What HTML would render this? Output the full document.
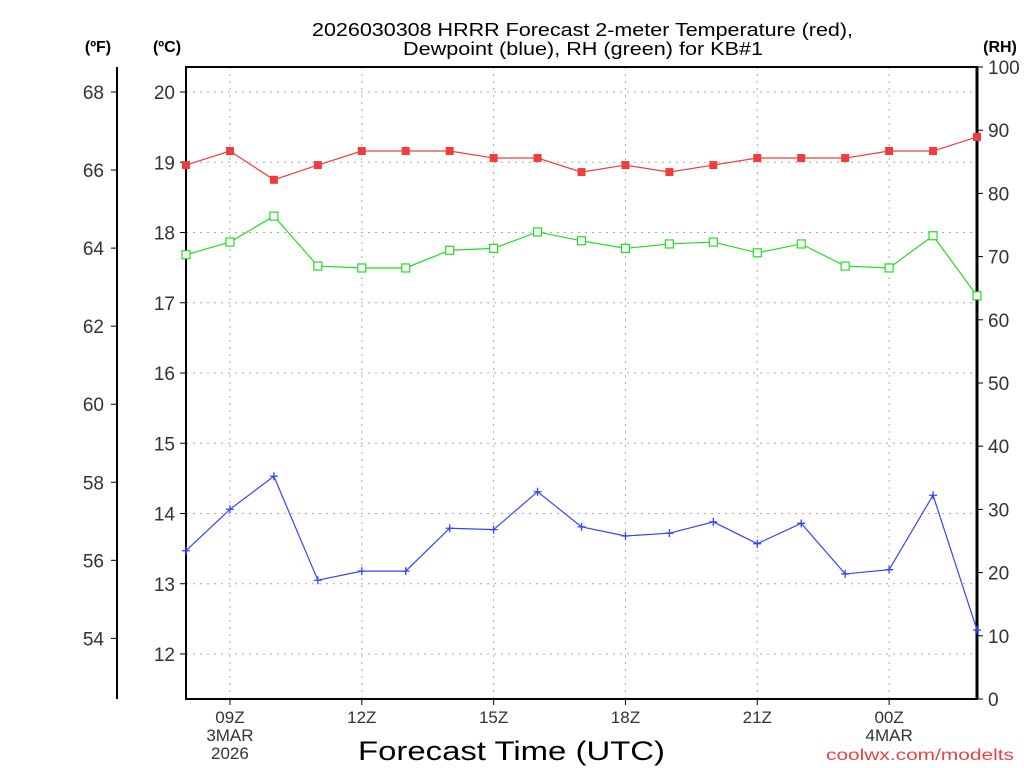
<!DOCTYPE html>
<html><head><meta charset="utf-8"><style>
body{margin:0;background:#fff}
svg{display:block;font-family:"Liberation Sans",sans-serif}
</style></head><body>
<svg id="c" width="1024" height="768" viewBox="0 0 1024 768">
<text x="312" y="36" font-size="18" textLength="541" lengthAdjust="spacingAndGlyphs">2026030308 HRRR Forecast 2-meter Temperature (red),</text>
<text x="403" y="55" font-size="18" textLength="360" lengthAdjust="spacingAndGlyphs">Dewpoint (blue), RH (green) for KB#1</text>
<text x="98" y="52" text-anchor="middle" font-size="16" font-weight="bold">(ºF)</text>
<text x="167" y="52" text-anchor="middle" font-size="16" font-weight="bold">(ºC)</text>
<text x="1000" y="52" text-anchor="middle" font-size="16" font-weight="bold">(RH)</text>
<text x="358" y="760" font-size="27" textLength="307" lengthAdjust="spacingAndGlyphs">Forecast Time (UTC)</text>
<text x="826" y="760" font-size="16" fill="#f04040" textLength="188" lengthAdjust="spacingAndGlyphs">coolwx.com/modelts</text>
<g id="grid"></g><g id="axes"></g><g id="series"></g>
</svg>
<script>
const hours=[8,9,10,11,12,13,14,15,16,17,18,19,20,21,22,23,0,1,2];
const tempC=[18.96,19.16,18.75,18.96,19.16,19.16,19.16,19.06,19.06,18.86,18.96,18.86,18.96,19.06,19.06,19.06,19.16,19.16,19.36];
const dewC=[13.47,14.06,14.53,13.05,13.18,13.18,13.79,13.77,14.31,13.81,13.68,13.72,13.88,13.57,13.86,13.14,13.20,14.26,12.34];
const rh=[70.3,72.3,76.4,68.5,68.2,68.2,71.0,71.3,73.9,72.5,71.3,72.0,72.3,70.6,72.0,68.5,68.2,73.3,63.8];
const cTicks=[12,13,14,15,16,17,18,19,20];
const fTicks=[54,56,58,60,62,64,66,68];
const rhTicks=[0,10,20,30,40,50,60,70,80,90,100];
const xTickLabels=[[1,"09Z","3MAR","2026"],[4,"12Z"],[7,"15Z"],[10,"18Z"],[13,"21Z"],[16,"00Z","4MAR"]];
const L=186,R=977,T=67,B=699;
const xs=i=>L+i*(R-L)/(hours.length-1);
const yC=c=>92+(20-c)*70.25;
const yF=f=>yC((f-32)*5/9);
const yR=r=>B-r*(B-T)/100;
const NS="http://www.w3.org/2000/svg";
function mk(p,tag,a){const e=document.createElementNS(NS,tag);for(const k in a)e.setAttribute(k,a[k]);p.appendChild(e);return e;}
const grid=document.getElementById('grid'),axes=document.getElementById('axes'),ser=document.getElementById('series');
cTicks.forEach(c=>{const y=yC(c);
 const g=mk(grid,'line',{x1:L,x2:R,y1:y,y2:y,stroke:'#aaa','stroke-dasharray':'2,5'});
 
 
 mk(axes,'line',{x1:L-6,x2:L,y1:y,y2:y,stroke:'#000'});
 const t=mk(axes,'text',{x:L-11,y:y+7,'text-anchor':'end','font-size':19,fill:'#333'});t.textContent=c;
 
 });
fTicks.forEach(f=>{const y=yF(f);
 mk(axes,'line',{x1:111,x2:117,y1:y,y2:y,stroke:'#000'});
 const t=mk(axes,'text',{x:104,y:y+7,'text-anchor':'end','font-size':19,fill:'#333'});t.textContent=f;
 
 });
rhTicks.forEach(r=>{const y=yR(r);
 mk(axes,'line',{x1:R,x2:R+6,y1:y,y2:y,stroke:'#000'});
 const t=mk(axes,'text',{x:R+11,y:y+7,'font-size':19,fill:'#333'});t.textContent=r;
 
 });
xTickLabels.forEach(d=>{const x=xs(d[0]);
 const g=mk(grid,'line',{x1:x,x2:x,y1:T,y2:B,stroke:'#aaa','stroke-dasharray':'2,5'});
 
 
 mk(axes,'line',{x1:x,x2:x,y1:B,y2:B+6,stroke:'#000'});
 d.slice(1).forEach((s,k)=>{const t=mk(axes,'text',{x:x,y:723+k*18,'text-anchor':'middle','font-size':17,fill:'#333'});t.textContent=s;
  
  });});
const fr=mk(axes,'rect',{x:L,y:T,width:R-L,height:B-T,fill:'none',stroke:'#000','stroke-width':2});


mk(axes,'line',{x1:R,x2:R,y1:T,y2:B,stroke:'#000','stroke-width':3});
const fa=mk(axes,'line',{x1:117,x2:117,y1:T,y2:B,stroke:'#000','stroke-width':2});


function series(vals,yf,color,marker,name){
 const pl=mk(ser,'polyline',{points:vals.map((v,i)=>xs(i)+','+yf(v)).join(' '),fill:'none',stroke:color,'stroke-width':1.2});
 
 
 vals.forEach((v,i)=>{const x=xs(i),y=yf(v);let m;
  if(marker==='sq')m=mk(ser,'rect',{x:x-4,y:y-4,width:8,height:8,fill:color});
  else if(marker==='osq')m=mk(ser,'rect',{x:x-4,y:y-4,width:8,height:8,fill:'#fff',stroke:color,'stroke-width':1.2});
  else m=mk(ser,'path',{d:`M${x-4},${y}H${x+4}M${x},${y-4}V${y+4}`,stroke:color,'stroke-width':1.3});
  
  });
}
series(tempC,yC,'#f03c3c','sq','temperature');
series(rh,yR,'#22dd22','osq','rh');
series(dewC,yC,'#3344ff','plus','dewpoint');
</script>
</body></html>
